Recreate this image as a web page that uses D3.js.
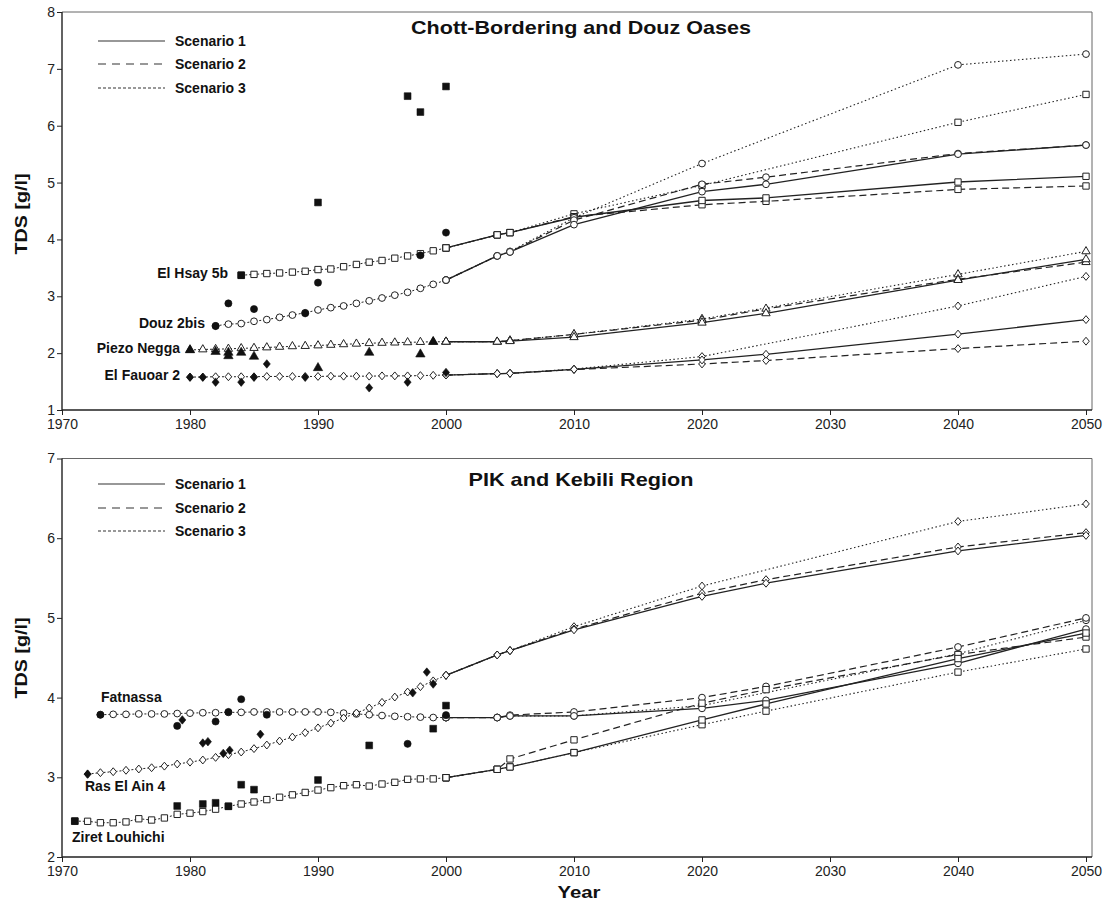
<!DOCTYPE html>
<html>
<head>
<meta charset="utf-8">
<script src="https://cdn.jsdelivr.net/npm/d3@7"></script>
<style>
  body { margin: 0; background: #fff; }
  svg { display: block; }
  text { font-family: "Liberation Sans", Arial, Helvetica, sans-serif; }
</style>
</head>
<body>
<svg id="chart" width="1112" height="904"></svg>
<script>
// ---------------- Data ----------------
const xTicks = [1970, 1980, 1990, 2000, 2010, 2020, 2030, 2040, 2050];
const topYTicks = [1, 2, 3, 4, 5, 6, 7, 8];
const bottomYTicks = [2, 3, 4, 5, 6, 7];
const scenarioNames = ["Scenario 1", "Scenario 2", "Scenario 3"];
const futureYears = [2000, 2004, 2005, 2010, 2020, 2025, 2040, 2050];

// Chott-Bordering and Douz Oases
const hsaySimYears = [1984, 1985, 1986, 1987, 1988, 1989, 1990, 1991, 1992, 1993, 1994, 1995, 1996, 1997, 1998, 1999, 2000];
const hsaySim = [3.37, 3.385, 3.40, 3.41, 3.425, 3.44, 3.47, 3.48, 3.52, 3.56, 3.60, 3.63, 3.67, 3.71, 3.75, 3.80, 3.85];
const hsayObsYears = [1984, 1990, 1997, 1998, 2000];
const hsayObs = [3.37, 4.65, 6.52, 6.24, 6.69];
const hsayS1 = [3.85, 4.08, 4.12, 4.39, 4.685, 4.73, 5.01, 5.11];
const hsayS2 = [3.85, 4.08, 4.12, 4.40, 4.61, 4.67, 4.88, 4.94];
const hsayS3 = [3.85, 4.08, 4.12, 4.45, 4.95, null, 6.06, 6.55];

const douzSimYears = [1982, 1983, 1984, 1985, 1986, 1987, 1988, 1989, 1990, 1991, 1992, 1993, 1994, 1995, 1996, 1997, 1998, 1999, 2000];
const douzSim = [2.48, 2.51, 2.52, 2.56, 2.59, 2.63, 2.67, 2.71, 2.76, 2.80, 2.83, 2.875, 2.92, 2.97, 3.02, 3.07, 3.14, 3.21, 3.285];
const douzObsYears = [1982, 1983, 1985, 1989, 1990, 1998, 2000];
const douzObs = [2.476, 2.875, 2.775, 2.70, 3.24, 3.72, 4.12];
const douzS1 = [3.285, 3.71, 3.78, 4.26, 4.84, 4.97, 5.50, 5.66];
const douzS2 = [3.285, 3.71, 3.78, 4.34, 4.97, 5.095, 5.51, 5.66];
const douzS3 = [3.285, 3.71, 3.79, 4.38, 5.335, null, 7.07, 7.26];

const neggaSimYears = [1980, 1981, 1982, 1983, 1984, 1985, 1986, 1987, 1988, 1989, 1990, 1991, 1992, 1993, 1994, 1995, 1996, 1997, 1998, 1999, 2000];
const neggaSim = [2.055, 2.065, 2.07, 2.075, 2.085, 2.09, 2.10, 2.11, 2.12, 2.125, 2.135, 2.145, 2.155, 2.165, 2.175, 2.18, 2.185, 2.19, 2.195, 2.20, 2.20];
const neggaObsYears = [1980, 1982, 1983, 1983, 1984, 1985, 1990, 1994, 1998, 1999];
const neggaObs = [2.055, 2.025, 2.01, 1.95, 2.01, 1.94, 1.74, 2.01, 1.98, 2.20];
const neggaS1 = [2.20, 2.20, 2.21, 2.28, 2.535, 2.70, 3.285, 3.65];
const neggaS2 = [2.20, 2.20, 2.22, 2.33, 2.58, 2.78, 3.30, 3.60];
const neggaS3 = [2.20, 2.20, 2.22, 2.33, 2.60, null, 3.385, 3.79];

const fauoarSimYears = [1980, 1981, 1982, 1983, 1984, 1985, 1986, 1987, 1988, 1989, 1990, 1991, 1992, 1993, 1994, 1995, 1996, 1997, 1998, 1999, 2000];
const fauoarSim = [1.58, 1.58, 1.585, 1.585, 1.585, 1.585, 1.59, 1.59, 1.59, 1.59, 1.59, 1.595, 1.595, 1.595, 1.595, 1.60, 1.60, 1.60, 1.605, 1.61, 1.615];
const fauoarObsYears = [1980, 1981, 1982, 1984, 1985, 1986, 1989, 1994, 1997, 2000];
const fauoarObs = [1.575, 1.575, 1.49, 1.49, 1.575, 1.81, 1.575, 1.39, 1.49, 1.66];
const fauoarS1 = [1.615, 1.64, 1.645, 1.715, 1.88, 1.98, 2.335, 2.59];
const fauoarS2 = [1.615, 1.64, 1.645, 1.71, 1.81, 1.87, 2.08, 2.21];
const fauoarS3 = [1.615, 1.64, 1.645, 1.72, 1.94, null, 2.83, 3.35];

// PIK and Kebili Region
const fatnassaSimYears = [1973, 1974, 1975, 1976, 1977, 1978, 1979, 1980, 1981, 1982, 1983, 1984, 1985, 1986, 1987, 1988, 1989, 1990, 1991, 1992, 1993, 1994, 1995, 1996, 1997, 1998, 1999, 2000];
const fatnassaSim = [3.785, 3.79, 3.79, 3.795, 3.795, 3.795, 3.80, 3.805, 3.81, 3.81, 3.815, 3.815, 3.82, 3.82, 3.82, 3.82, 3.82, 3.82, 3.815, 3.805, 3.795, 3.785, 3.775, 3.765, 3.76, 3.755, 3.75, 3.75];
const fatnassaObsYears = [1973, 1979, 1982, 1983, 1984, 1986, 1997, 2000];
const fatnassaObs = [3.785, 3.645, 3.70, 3.82, 3.98, 3.785, 3.42, 3.78];
const fatnassaS1 = [3.75, 3.75, 3.77, 3.77, 3.865, 3.966, 4.43, 4.86];
const fatnassaS2 = [3.75, 3.75, 3.78, 3.82, 4.00, 4.14, 4.635, 5.00];
const fatnassaS3 = [3.75, 3.75, 3.77, 3.77, 3.90, null, 4.55, 4.97];

const rasSimYears = [1972, 1973, 1974, 1975, 1976, 1977, 1978, 1979, 1980, 1981, 1982, 1983, 1984, 1985, 1986, 1987, 1988, 1989, 1990, 1991, 1992, 1993, 1994, 1995, 1996, 1997, 1998, 1999, 2000];
const rasSim = [3.04, 3.058, 3.07, 3.088, 3.104, 3.12, 3.14, 3.167, 3.19, 3.217, 3.25, 3.284, 3.317, 3.36, 3.405, 3.455, 3.505, 3.56, 3.62, 3.68, 3.744, 3.807, 3.87, 3.94, 4.007, 4.07, 4.137, 4.21, 4.28];
const rasObsYears = [1972, 1979.4, 1981, 1981.4, 1982.6, 1983.1, 1985.5, 1997.4, 1998.5, 1999];
const rasObs = [3.04, 3.72, 3.43, 3.447, 3.30, 3.34, 3.54, 4.06, 4.32, 4.17];
const rasS1 = [4.28, 4.535, 4.59, 4.85, 5.27, 5.435, 5.84, 6.035];
const rasS2 = [4.28, 4.535, 4.59, 4.86, 5.31, 5.48, 5.89, 6.07];
const rasS3 = [4.28, 4.535, 4.59, 4.89, 5.40, null, 6.21, 6.43];

const ziretSimYears = [1971, 1972, 1973, 1974, 1975, 1976, 1977, 1978, 1979, 1980, 1981, 1982, 1983, 1984, 1985, 1986, 1987, 1988, 1989, 1990, 1991, 1992, 1993, 1994, 1995, 1996, 1997, 1998, 1999, 2000];
const ziretSim = [2.45, 2.448, 2.43, 2.43, 2.44, 2.48, 2.464, 2.49, 2.535, 2.55, 2.57, 2.60, 2.636, 2.665, 2.69, 2.72, 2.75, 2.78, 2.81, 2.84, 2.87, 2.895, 2.907, 2.89, 2.916, 2.937, 2.975, 2.98, 2.98, 2.995];
const ziretObsYears = [1971, 1979, 1981, 1982, 1983, 1984, 1985, 1990, 1994, 1999, 2000];
const ziretObs = [2.45, 2.64, 2.665, 2.68, 2.636, 2.907, 2.845, 2.966, 3.40, 3.61, 3.90];
const ziretS1 = [2.995, 3.10, 3.13, 3.31, 3.72, 3.92, 4.49, 4.81];
const ziretS2 = [2.995, 3.10, 3.23, 3.47, 3.93, 4.10, 4.54, 4.76];
const ziretS3 = [2.995, 3.10, 3.13, 3.31, 3.66, 3.83, 4.32, 4.61];

// ---------------- Drawing ----------------
const svg = d3.select("#chart");
const x = d3.scaleLinear().domain([1970, 2050]).range([62, 1086]);
const frameLeft = 62, frameRight = 1092;
const INK = "#222";

// near-square diamond (slightly taller than wide)
const squatDiamond = {
  draw(context, size) {
    const w = Math.sqrt(size / 2.4), h = w * 1.2;
    context.moveTo(0, -h);
    context.lineTo(w, 0);
    context.lineTo(0, h);
    context.lineTo(-w, 0);
    context.closePath();
  }
};

const shapes = {
  square: d3.symbolSquare,
  circle: d3.symbolCircle,
  diamond: squatDiamond,
  triangle: d3.symbolTriangle
};
const openSize = { square: 40, circle: 36, diamond: 26, triangle: 30 };
const filledSize = { square: 46, circle: 40, diamond: 30, triangle: 38 };
const simDash = "2,2";
const scenarioStyle = [
  { dash: null, width: 1.3 },
  { dash: "7,4", width: 1.2 },
  { dash: "1.5,2.5", width: 1.1 }
];
const legendDash = [null, "8,6", "3,2"];

const zip = (xs, ys) => xs.map((v, i) => ({ year: v, value: ys[i] })).filter(d => d.value != null);

function drawPanel(p) {
  const y = d3.scaleLinear().domain(p.yDomain).range(p.yRange);
  const g = svg.append("g");
  const [yBottom, yTop] = p.yRange;

  // frame: top and right
  g.append("path")
    .attr("d", `M${frameLeft},${yTop}H${frameRight}V${yBottom}`)
    .attr("fill", "none").attr("stroke", "#666").attr("stroke-width", 1);

  // axes
  const xAxis = g.append("g").attr("transform", `translate(0,${yBottom})`)
    .call(d3.axisBottom(x).tickValues(xTicks).tickFormat(d3.format("d")).tickSize(5).tickSizeOuter(0).tickPadding(4));
  const yAxis = g.append("g").attr("transform", `translate(${frameLeft},0)`)
    .call(d3.axisLeft(y).tickValues(p.yTicks).tickFormat(d3.format("d")).tickSize(5).tickSizeOuter(0).tickPadding(2));
  [xAxis, yAxis].forEach(a => {
    a.select(".domain").remove();
    a.selectAll(".tick line").attr("stroke", INK);
    a.selectAll(".tick text").attr("fill", INK).style("font-size", "14px")
      .style("font-family", '"Liberation Sans", Arial, sans-serif');
  });
  g.append("path")
    .attr("d", `M${frameLeft},${yTop}V${yBottom}H${frameRight}`)
    .attr("fill", "none").attr("stroke", INK).attr("stroke-width", 1.4);

  const line = d3.line().x(d => x(d.year)).y(d => y(d.value));
  const lines = g.append("g").attr("fill", "none").attr("stroke", INK);

  // simulated history (dotted)
  p.series.forEach(s => {
    lines.append("path").datum(zip(s.simYears, s.sim))
      .attr("d", line).attr("stroke-width", 1).attr("stroke-dasharray", simDash);
  });
  // scenario projections
  p.series.forEach(s => {
    [s.s1, s.s2, s.s3].forEach((vals, k) => {
      lines.append("path").datum(zip(futureYears, vals))
        .attr("d", line)
        .attr("stroke-width", scenarioStyle[k].width)
        .attr("stroke-dasharray", scenarioStyle[k].dash);
    });
  });

  // open markers: simulation and scenarios
  const marks = g.append("g");
  p.series.forEach(s => {
    const sym = d3.symbol().type(shapes[s.shape]).size(openSize[s.shape]);
    const pts = zip(s.simYears, s.sim)
      .concat(zip(futureYears, s.s3), zip(futureYears, s.s2), zip(futureYears, s.s1));
    marks.selectAll(null).data(pts).join("path")
      .attr("d", sym)
      .attr("transform", d => `translate(${x(d.year)},${y(d.value)})`)
      .attr("fill", "#fff").attr("stroke", INK).attr("stroke-width", 1);
  });
  // filled markers: measurements
  p.series.forEach(s => {
    const sym = d3.symbol().type(shapes[s.shape]).size(filledSize[s.shape]);
    marks.selectAll(null).data(zip(s.obsYears, s.obs)).join("path")
      .attr("d", sym)
      .attr("transform", d => `translate(${x(d.year)},${y(d.value)})`)
      .attr("fill", "#111").attr("stroke", "#111").attr("stroke-width", 0.6);
  });

  // site labels
  p.labels.forEach(l => {
    g.append("text").attr("x", l.x).attr("y", l.y)
      .attr("text-anchor", l.anchor)
      .style("font-size", "14px").style("font-weight", "bold").attr("fill", "#111")
      .text(l.text);
  });

  // legend
  p.legendY.forEach((ly, k) => {
    g.append("line").attr("x1", 98).attr("x2", 165).attr("y1", ly).attr("y2", ly)
      .attr("stroke", "#333").attr("stroke-width", 1.1)
      .attr("stroke-dasharray", legendDash[k]);
    g.append("text").attr("x", 175).attr("y", ly + 5)
      .style("font-size", "14px").style("font-weight", "bold").attr("fill", "#111")
      .text(scenarioNames[k]);
  });

  // title
  g.append("text").attr("x", 581).attr("y", p.titleY)
    .attr("text-anchor", "middle")
    .attr("textLength", p.titleWidth).attr("lengthAdjust", "spacingAndGlyphs")
    .style("font-size", "19px").style("font-weight", "bold").attr("fill", "#111")
    .text(p.title);

  // y-axis label
  g.append("text")
    .attr("transform", `translate(27,${p.yLabelCenter}) rotate(-90)`)
    .attr("text-anchor", "middle")
    .attr("textLength", 81).attr("lengthAdjust", "spacingAndGlyphs")
    .style("font-size", "17px").style("font-weight", "bold").attr("fill", "#111")
    .text("TDS [g/l]");
}

drawPanel({
  yDomain: [1, 8], yRange: [410, 12], yTicks: topYTicks,
  title: "Chott-Bordering and Douz Oases", titleY: 34, titleWidth: 340,
  legendY: [41, 64, 88], yLabelCenter: 214,
  series: [
    { shape: "square", simYears: hsaySimYears, sim: hsaySim, obsYears: hsayObsYears, obs: hsayObs, s1: hsayS1, s2: hsayS2, s3: hsayS3 },
    { shape: "circle", simYears: douzSimYears, sim: douzSim, obsYears: douzObsYears, obs: douzObs, s1: douzS1, s2: douzS2, s3: douzS3 },
    { shape: "triangle", simYears: neggaSimYears, sim: neggaSim, obsYears: neggaObsYears, obs: neggaObs, s1: neggaS1, s2: neggaS2, s3: neggaS3 },
    { shape: "diamond", simYears: fauoarSimYears, sim: fauoarSim, obsYears: fauoarObsYears, obs: fauoarObs, s1: fauoarS1, s2: fauoarS2, s3: fauoarS3 }
  ],
  labels: [
    { text: "El Hsay 5b", x: 228, y: 278, anchor: "end" },
    { text: "Douz 2bis", x: 205, y: 328, anchor: "end" },
    { text: "Piezo Negga", x: 180, y: 353, anchor: "end" },
    { text: "El Fauoar 2", x: 180, y: 380, anchor: "end" }
  ]
});

drawPanel({
  yDomain: [2, 7], yRange: [857, 458.5], yTicks: bottomYTicks,
  title: "PIK and Kebili Region", titleY: 486, titleWidth: 225,
  legendY: [484, 508, 531], yLabelCenter: 658,
  series: [
    { shape: "circle", simYears: fatnassaSimYears, sim: fatnassaSim, obsYears: fatnassaObsYears, obs: fatnassaObs, s1: fatnassaS1, s2: fatnassaS2, s3: fatnassaS3 },
    { shape: "diamond", simYears: rasSimYears, sim: rasSim, obsYears: rasObsYears, obs: rasObs, s1: rasS1, s2: rasS2, s3: rasS3 },
    { shape: "square", simYears: ziretSimYears, sim: ziretSim, obsYears: ziretObsYears, obs: ziretObs, s1: ziretS1, s2: ziretS2, s3: ziretS3 }
  ],
  labels: [
    { text: "Fatnassa", x: 101, y: 702, anchor: "start" },
    { text: "Ras El Ain 4", x: 85, y: 791, anchor: "start" },
    { text: "Ziret Louhichi", x: 72, y: 842, anchor: "start" }
  ]
});

// shared x-axis title
svg.append("text").attr("x", 579).attr("y", 898)
  .attr("text-anchor", "middle")
  .attr("textLength", 43).attr("lengthAdjust", "spacingAndGlyphs")
  .style("font-size", "17px").style("font-weight", "bold").attr("fill", "#111")
  .text("Year");
</script>
</body>
</html>
